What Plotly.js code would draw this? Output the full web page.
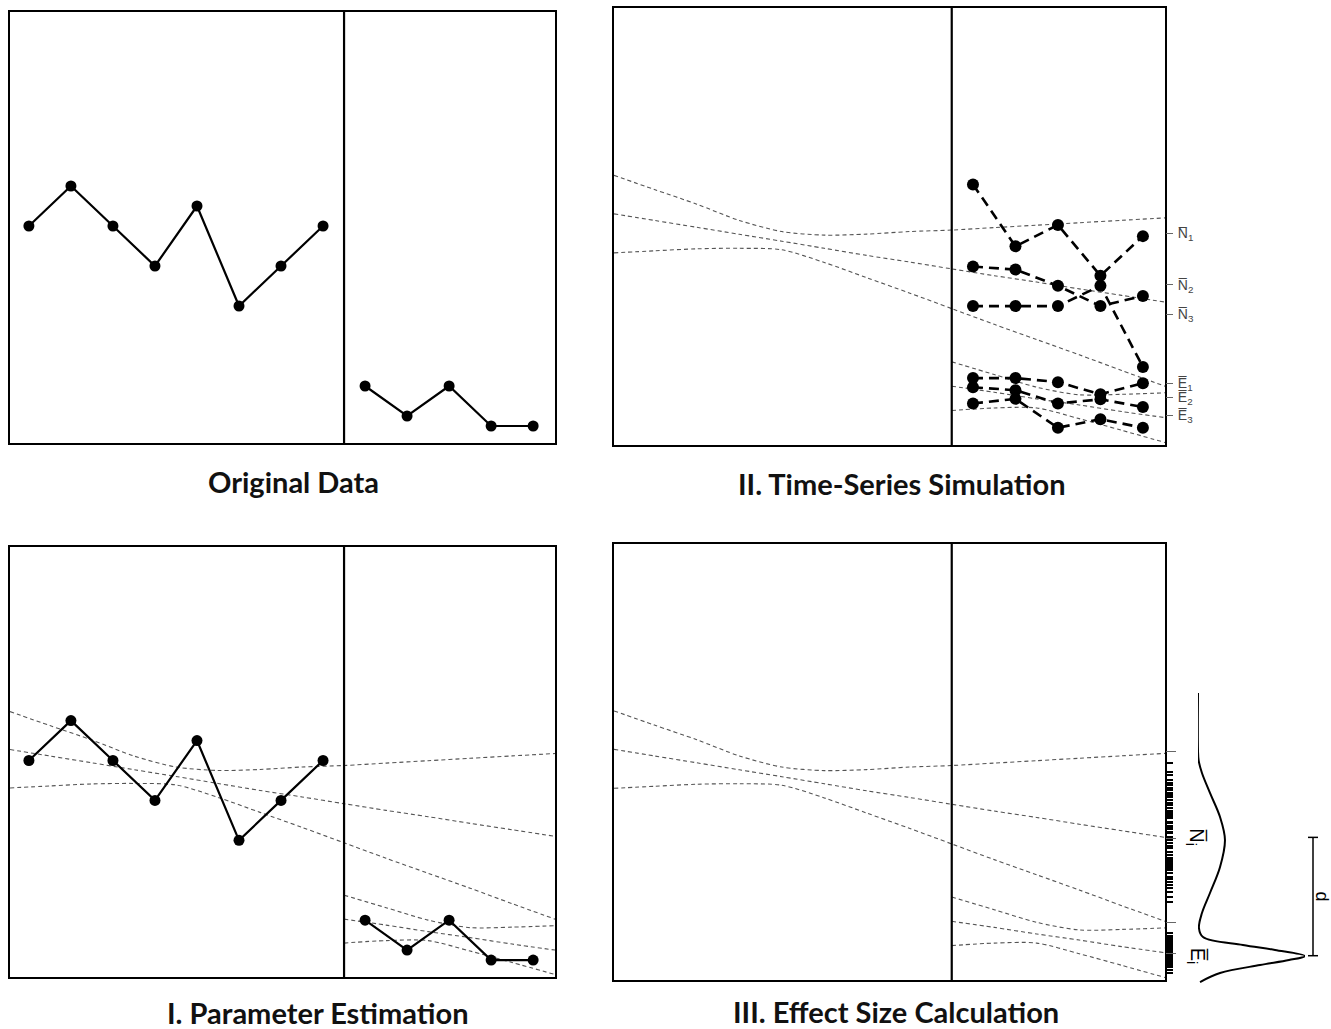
<!DOCTYPE html>
<html>
<head>
<meta charset="utf-8">
<script src="https://cdn.plot.ly/plotly-3.0.1.min.js"></script>
<style>html,body{margin:0;padding:0;background:#fff;}#chart{width:1331px;height:1029px;}</style>
</head>
<body>
<div id="chart"></div>
<script>
// ---------- DATA ----------
const baselineSessions = [1, 2, 3, 4, 5, 6, 7, 8];
const baselineValues   = [22, 26, 22, 18, 24, 14, 18, 22];
const treatmentSessions = [9, 10, 11, 12, 13];
const treatmentValues   = [6, 3, 6, 2, 2];
const phaseChange = 8.5;

// fitted model curves (whole series)
const fitSessions = [0.55, 1.5, 2.5, 3.5, 4.5, 5.5, 6.5, 7.5, 8.5, 9.5, 10.5, 11.5, 12.5, 13.52];
const fitA = [26.9, 25.5, 24.05, 22.45, 21.35, 21.0, 21.1, 21.35, 21.5, 21.74, 21.98, 22.22, 22.46, 22.7];
const fitB = [23.1, 22.45, 21.77, 21.08, 20.4, 19.7, 19.0, 18.35, 17.67, 17.0, 16.37, 15.7, 15.06, 14.4];
const fitC = [19.25, 19.45, 19.65, 19.7, 19.55, 18.3, 16.8, 15.3, 13.75, 12.2, 10.7, 9.2, 7.65, 6.1];
// fitted treatment-phase curves
const treatFitSessions = [8.5, 9.5, 10.5, 11.5, 12.5, 13.52];
const fitD = [8.5, 7.25, 6.0, 5.25, 5.3, 5.45];
const fitE = [6.1, 5.5, 4.85, 4.25, 3.6, 3.0];
const fitF = [3.7, 3.95, 3.95, 2.9, 1.75, 0.55];

// simulated series
const simSessions = [9, 10, 11, 12, 13];
const simN1 = [26.0, 19.9, 22.0, 17.0, 20.9];
const simN2 = [17.9, 17.6, 16.0, 14.0, 15.0];
const simN3 = [14.0, 14.0, 14.0, 16.0, 8.0];
const simE1 = [6.9, 6.9, 6.5, 5.3, 6.4];
const simE2 = [6.0, 5.7, 4.4, 4.8, 4.05];
const simE3 = [4.4, 4.85, 2.0, 2.85, 2.0];
const simLabels = ['N̅<sub>1</sub>', 'N̅<sub>2</sub>', 'N̅<sub>3</sub>', 'E̅<sub>1</sub>', 'E̅<sub>2</sub>', 'E̅<sub>3</sub>'];

// distribution of simulated means (rug)
const rugN = [21.75, 20.86, 20.56, 20.07, 19.77, 19.57, 19.28, 19.08, 18.79, 18.59, 18.39, 18.09, 17.80, 17.60, 17.30,
  17.00, 16.90, 16.81, 16.71, 16.51, 16.31, 15.92, 15.82, 15.52, 15.42, 15.22, 14.93, 14.83, 14.43, 14.14, 13.84,
  13.55, 13.35, 12.95, 12.65, 12.36, 12.16, 11.96, 11.76, 11.57, 11.37, 11.17, 10.87, 10.48, 10.28, 9.99, 9.69,
  9.39, 9.0, 8.51, 8.01];
const rugE = [4.94, 4.65, 4.45, 4.25, 4.15, 4.06, 3.96, 3.86, 3.76, 3.66, 3.56, 3.46, 3.36, 3.26, 3.16, 3.06, 2.97,
  2.87, 2.77, 2.67, 2.57, 2.47, 2.37, 2.28, 2.18, 1.98, 1.78, 1.59, 1.29, 0.99];
const summaryTicks = [22.9, 14.3, 6.0, 2.9];

// density of simulated means
const densityLevels = [28.67, 23.04, 22.0, 20.76, 18.79, 16.41, 14.14, 11.47, 8.9, 6.92, 5.44, 4.55, 3.76, 3.27, 2.67, 2.27, 1.78, 0.99, 0.1];
const densityValues = [0, 0, 0.006, 0.037, 0.112, 0.206, 0.252, 0.206, 0.112, 0.037, 0.009, 0.047, 0.42, 0.72, 1.0, 0.85, 0.58, 0.206, 0.019];
const effectN = 14.4;
const effectE = 2.7;

const titles = ['Original Data', 'II. Time-Series Simulation', 'I. Parameter Estimation', 'III. Effect Size Calculation'];

// ---------- LAYOUT HELPERS ----------
const W = 1331, H = 1029;
const px = (a, b) => [a / W, b / W];
const py = (top, bottom) => [1 - bottom / H, 1 - top / H];
const xr = [0.55, 13.52], yr = [0.3, 43.4];

function boxAxis(domain, anchor) {
  return {domain: domain, anchor: anchor, showline: true, mirror: true, linewidth: 2.2, linecolor: '#000',
    showgrid: false, zeroline: false, showticklabels: false, ticks: '', fixedrange: true};
}

const traces = [];
function addFits(xa, ya) {
  [fitA, fitB, fitC].forEach(f => traces.push({x: fitSessions, y: f, xaxis: xa, yaxis: ya, mode: 'lines',
    line: {color: '#555', width: 1.1, dash: '4px,3px', shape: 'spline', smoothing: 0.8}, hoverinfo: 'skip'}));
  [fitD, fitE, fitF].forEach(f => traces.push({x: treatFitSessions, y: f, xaxis: xa, yaxis: ya, mode: 'lines',
    line: {color: '#555', width: 1.1, dash: '4px,3px', shape: 'spline', smoothing: 0.8}, hoverinfo: 'skip'}));
}
function addOriginal(xa, ya) {
  traces.push({x: baselineSessions, y: baselineValues, xaxis: xa, yaxis: ya, mode: 'lines+markers',
    line: {color: '#000', width: 2.2}, marker: {color: '#000', size: 11}});
  traces.push({x: treatmentSessions, y: treatmentValues, xaxis: xa, yaxis: ya, mode: 'lines+markers',
    line: {color: '#000', width: 2.2}, marker: {color: '#000', size: 11}});
}

const mean = a => a.reduce((s, v) => s + v, 0) / a.length;
const sims = [simN1, simN2, simN3, simE1, simE2, simE3];
const simMeans = sims.map(mean);

// Panel 1
addOriginal('x', 'y');
// Panel 2
addFits('x2', 'y2');
sims.forEach(s => traces.push({x: simSessions, y: s, xaxis: 'x2', yaxis: 'y2', mode: 'lines+markers',
  line: {color: '#000', width: 2.6, dash: '10px,6px'}, marker: {color: '#000', size: 12}}));
// invisible carriers so the right-hand axes are drawn
const invisible = {mode: 'markers', marker: {opacity: 0, size: 1}, hoverinfo: 'skip'};
traces.push(Object.assign({x: simSessions.slice(0, 1), y: simMeans.slice(0, 1), xaxis: 'x2', yaxis: 'y5'}, invisible));
// Panel 3
addFits('x3', 'y3');
addOriginal('x3', 'y3');
// Panel 4
addFits('x4', 'y4');
traces.push(Object.assign({x: simSessions.slice(0, 1), y: rugE.slice(0, 1), xaxis: 'x4', yaxis: 'y6'}, invisible));
traces.push(Object.assign({x: simSessions.slice(0, 1), y: summaryTicks.slice(0, 1), xaxis: 'x4', yaxis: 'y7'}, invisible));
// density
traces.push({x: densityValues, y: densityLevels, xaxis: 'x5', yaxis: 'y8', mode: 'lines',
  line: {color: '#000', width: 2, shape: 'spline', smoothing: 1}});

const p1x = px(10, 555), p1y = py(12, 443);
const p2x = px(614, 1165), p2y = py(8, 445);
const p3x = px(10, 555), p3y = py(547, 977);
const p4x = px(614, 1165), p4y = py(544, 980);

const layout = {
  width: W, height: H, margin: {l: 0, r: 0, t: 0, b: 0}, showlegend: false,
  paper_bgcolor: '#fff', plot_bgcolor: 'rgba(0,0,0,0)',
  xaxis: Object.assign(boxAxis(p1x, 'y'), {range: xr}),
  yaxis: Object.assign(boxAxis(p1y, 'x'), {range: yr}),
  xaxis2: Object.assign(boxAxis(p2x, 'y2'), {range: xr}),
  yaxis2: Object.assign(boxAxis(p2y, 'x2'), {range: yr}),
  xaxis3: Object.assign(boxAxis(p3x, 'y3'), {range: xr}),
  yaxis3: Object.assign(boxAxis(p3y, 'x3'), {range: yr}),
  xaxis4: Object.assign(boxAxis(p4x, 'y4'), {range: xr}),
  yaxis4: Object.assign(boxAxis(p4y, 'x4'), {range: yr}),
  yaxis5: {overlaying: 'y2', anchor: 'x2', side: 'right', range: yr, showline: false, showgrid: false, zeroline: false,
    tickmode: 'array', tickvals: simMeans, ticktext: simLabels, ticks: 'outside', ticklen: 7, tickwidth: 1,
    tickcolor: '#666', ticklabelstandoff: 2,
    tickfont: {family: 'Liberation Sans, Arial, sans-serif', size: 14, color: '#444'}, fixedrange: true},
  yaxis6: {overlaying: 'y4', anchor: 'x4', side: 'right', range: yr, showline: false, showgrid: false, zeroline: false,
    tickmode: 'array', tickvals: rugN.concat(rugE), ticks: 'outside', ticklen: 7, tickwidth: 1.3, tickcolor: '#000',
    showticklabels: false, fixedrange: true},
  yaxis7: {overlaying: 'y4', anchor: 'x4', side: 'right', range: yr, showline: false, showgrid: false, zeroline: false,
    tickmode: 'array', tickvals: summaryTicks, ticks: 'outside', ticklen: 10, tickwidth: 1, tickcolor: '#666',
    showticklabels: false, fixedrange: true},
  xaxis5: {domain: px(1198, 1305), anchor: 'y8', range: [0, 1], visible: false, fixedrange: true},
  yaxis8: {domain: py(540, 990), anchor: 'x5', range: [-0.69, 43.8], visible: false, fixedrange: true},
  shapes: [],
  annotations: []
};

['x', 'x3', 'x2', 'x4'].forEach((xa, i) => {
  const ya = ['y', 'y3', 'y2', 'y4'][i];
  layout.shapes.push({type: 'line', xref: xa, yref: ya + ' domain', x0: phaseChange, x1: phaseChange, y0: 0, y1: 1,
    line: {color: '#000', width: 2.2}});
});

// effect size bracket
const bx = 1313 / W, bc = 5 / W;
layout.shapes.push({type: 'line', xref: 'paper', yref: 'y8', x0: bx, x1: bx, y0: effectN, y1: effectE, line: {color: '#000', width: 1.5}});
layout.shapes.push({type: 'line', xref: 'paper', yref: 'y8', x0: bx - bc, x1: bx + bc, y0: effectN, y1: effectN, line: {color: '#000', width: 1.5}});
layout.shapes.push({type: 'line', xref: 'paper', yref: 'y8', x0: bx - bc, x1: bx + bc, y0: effectE, y1: effectE, line: {color: '#000', width: 1.5}});

const titleFont = {family: 'Lato, Open Sans, sans-serif', size: 29, color: '#111', weight: 700};
const titlePos = [[293, 481], [902, 483], [318, 1012], [896, 1011]];
titles.forEach((t, i) => layout.annotations.push({text: '<b>' + t + '</b>', xref: 'paper', yref: 'paper',
  x: titlePos[i][0] / W, y: 1 - titlePos[i][1] / H, xanchor: 'center', yanchor: 'middle', showarrow: false,
  borderpad: 0, font: titleFont}));

const rotFont = {family: 'Liberation Sans, Arial, sans-serif', size: 20, color: '#000'};
layout.annotations.push({text: 'N̅<sub>i</sub>', xref: 'paper', yref: 'y8', x: 1196 / W, y: effectN, textangle: 90,
  showarrow: false, xanchor: 'center', yanchor: 'middle', font: rotFont});
layout.annotations.push({text: 'E̅<sub>i</sub>', xref: 'paper', yref: 'y8', x: 1196 / W, y: effectE, textangle: 90,
  showarrow: false, xanchor: 'center', yanchor: 'middle', font: rotFont});
layout.annotations.push({text: 'd', xref: 'paper', yref: 'y8', x: 1322 / W, y: (effectN + effectE) / 2, textangle: 90,
  showarrow: false, xanchor: 'center', yanchor: 'middle', borderpad: 0,
  font: {family: 'Liberation Sans, Arial, sans-serif', size: 18, color: '#000'}});

Plotly.newPlot('chart', traces, layout, {staticPlot: true, displayModeBar: false});
</script>
</body>
</html>
